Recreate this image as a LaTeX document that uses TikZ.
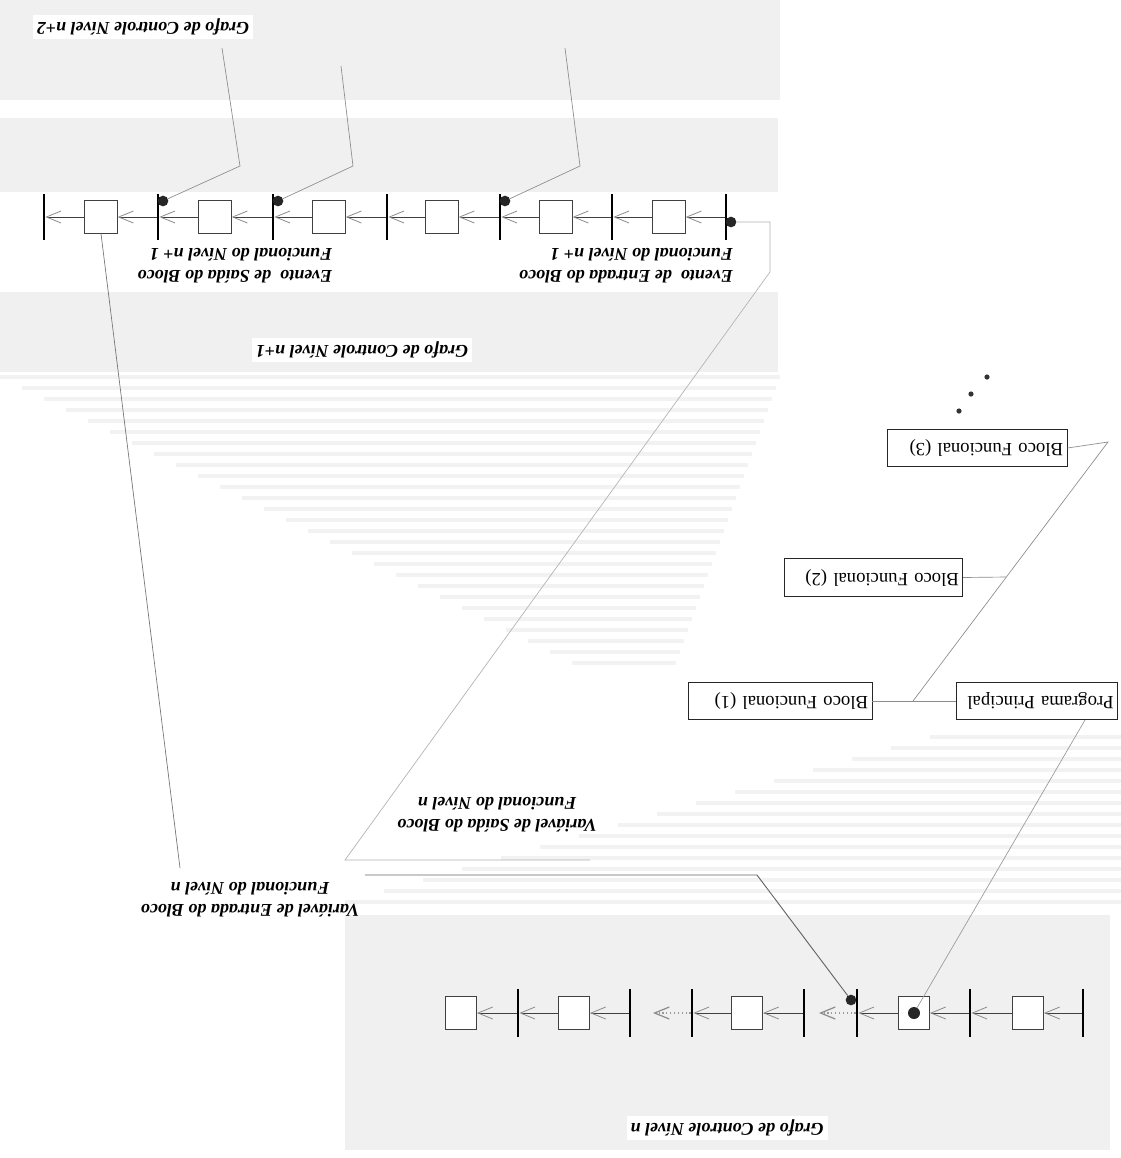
\documentclass[tikz,border=0pt]{standalone}
\usepackage{fontspec}
\setmainfont{Liberation Serif}
\usetikzlibrary{arrows.meta,calc}
\begin{document}
\begin{tikzpicture}[x=0.75pt,y=-0.75pt,
  stepbox/.style={draw=black!75,line width=0.5pt,fill=white,minimum width=24.5pt,minimum height=24.5pt,inner sep=0pt},
  bar/.style={fill=black,minimum width=1.6pt,minimum height=34.5pt,inner sep=0pt},
  tokendot/.style={circle,fill=black!85,minimum size=8pt,inner sep=0pt},
  flow/.style={draw=black!75,line width=0.6pt,-{Straight Barb[length=11pt,width=9pt,color=black!45]}},
  cont/.style={draw=black!40,line width=0.9pt,dotted,-{Straight Barb[length=11pt,width=9pt,color=black!45]}},
  lbl/.style={rotate=180,font=\fontsize{13.5}{16.5}\selectfont\bfseries\itshape,inner sep=3pt},
  block/.style={draw=black!85,line width=0.6pt,fill=white,font=\fontsize{14}{16}\selectfont,minimum height=28pt,inner xsep=3pt,align=right},
  link/.style={draw=black!45,line width=0.5pt},
  panel/.style={fill=black!6},
  bleed/.style={fill=black!5},
]
\useasboundingbox (0,0) rectangle (1121,1158);
\fill[white] (0,0) rectangle (1121,1158);

% shaded page areas
\fill[panel] (0,0) rectangle (780,100);
\fill[panel] (0,118) rectangle (778,192);
\fill[panel] (0,292) rectangle (778,372);
\fill[panel] (345,915) rectangle (1110,1150);
\foreach \i in {0,...,26}{
  \pgfmathsetmacro\yy{375+11*\i}
  \pgfmathsetmacro\xa{22*\i}
  \pgfmathsetmacro\xb{780-4*\i}
  \fill[bleed] (\xa,\yy) rectangle (\xb,\yy+4);
}
\foreach \i in {0,...,15}{
  \pgfmathsetmacro\yy{735+11*\i}
  \pgfmathsetmacro\xa{930-39*\i}
  \fill[bleed] (\xa,\yy) rectangle (1121,\yy+4);
}

% ---- control graph, level n+1 ----
\foreach \n/\x in {0/44,1/158,2/273,3/387,4/500,5/612,6/726}
  \node[bar] (p\n) at (\x,217) {};
\foreach \n/\x in {1/101,2/215,3/329,4/442,5/556,6/669}
  \node[stepbox] (s\n) at (\x,217) {};
\draw[flow] (p6) -- (s6.east);
\draw[flow] (s6.west) -- (p5);
\draw[flow] (p5) -- (s5.east);
\draw[flow] (s5.west) -- (p4);
\draw[flow] (p4) -- (s4.east);
\draw[flow] (s4.west) -- (p3);
\draw[flow] (p3) -- (s3.east);
\draw[flow] (s3.west) -- (p2);
\draw[flow] (p2) -- (s2.east);
\draw[flow] (s2.west) -- (p1);
\draw[flow] (p1) -- (s1.east);
\draw[flow] (s1.west) -- (p0);

% ---- control graph, level n ----
\foreach \n/\x in {1/518,2/630,3/692,4/804,5/857,6/970,7/1083}
  \node[bar,minimum height=36pt] (q\n) at (\x,1013) {};
\foreach \n/\x in {1/461,2/574,3/747,4/914,5/1028}
  \node[stepbox,minimum width=23.5pt,minimum height=25pt] (t\n) at (\x,1013) {};
\coordinate (c1) at (819,1013);
\coordinate (c2) at (653,1013);
\draw[flow] (q7) -- (t5.east);
\draw[flow] (t5.west) -- (q6);
\draw[flow] (q6) -- (t4.east);
\draw[flow] (t4.west) -- (q5);
\draw[cont] (q5) -- (c1);
\draw[flow] (q4) -- (t3.east);
\draw[flow] (t3.west) -- (q3);
\draw[cont] (q3) -- (c2);
\draw[flow] (q2) -- (t2.east);
\draw[flow] (t2.west) -- (q1);
\draw[flow] (q1) -- (t1.east);

% ---- program tree ----
\node[block,text width=132pt] (B1) at (780,701) {\rotatebox{180}{Bloco Funcional (1)}};
\node[block,text width=128pt] (B2) at (873.5,577.5) {\rotatebox{180}{Bloco Funcional (2)}};
\node[block,text width=129pt] (B3) at (977,448) {\rotatebox{180}{Bloco Funcional (3)}};
\node[block,text width=115pt] (PP) at (1037,701) {\rotatebox{180}{Programa Principal}};
\coordinate (J1) at (913,701);
\coordinate (J3) at (1108,442);
\coordinate (J2) at (1006,577);
\draw[link] (B1.east) -- (PP.west);
\draw[link] (J1) -- (J3) -- (B3.east);
\draw[link] (B2.east) -- (J2);
\fill[black!80] (987,377) circle (2.6) (971,394) circle (2.6) (959,411) circle (2.6);

% ---- labels ----
\node[lbl,fill=white] (g2) at (143,27) {Grafo de Controle Nível n+2};
\node[lbl,fill=white,align=left] (ein) at (626,266) {Evento\ \ de Entrada do Bloco\\Funcional do Nível n+ 1};
\node[lbl,fill=white,align=left] (eout) at (235,266) {Evento\ \ de Saída do Bloco\\Funcional do Nível n+ 1};
\node[lbl,fill=white] (g1) at (362,350) {Grafo de Controle Nível n+1};
\node[lbl,align=center] (vout) at (497,815) {Variável de Saída do Bloco\\Funcional do Nível n};
\node[lbl,align=center] (vin) at (250,900) {Variável de Entrada do Bloco\\Funcional do Nível n};
\node[lbl,fill=white] (g0) at (727,1128) {Grafo de Controle Nível n};

% ---- callouts ----
\node[tokendot] (d1) at (163,201) {};
\node[tokendot] (d2) at (278,201) {};
\node[tokendot] (d3) at (505,201) {};
\node[tokendot] (d4) at (731,222) {};
\node[tokendot] (e1) at (851,1000) {};
\node[tokendot,minimum width=8pt,minimum height=9pt] (tk) at (914,1013) {};

\coordinate (a1) at (222,48);  \coordinate (a1b) at (240,166);
\coordinate (a2) at (341,66);  \coordinate (a2b) at (353,166);
\coordinate (a3) at (565,48);  \coordinate (a3b) at (580,166);
\draw[link] (a1) -- (a1b) -- (d1);
\draw[link] (a2) -- (a2b) -- (d2);
\draw[link] (a3) -- (a3b) -- (d3);

\coordinate (v1) at (180,868);
\draw[link,draw=black!55] (s1.south) -- (v1);

\coordinate (h1) at (757,875);
\coordinate (h2) at (365,875);
\draw[link,draw=black!60,line width=0.7pt] (e1) -- (h1) -- (h2);

\coordinate (k1) at (770,222);
\coordinate (k2) at (770,272);
\coordinate (k3) at (345,860);
\coordinate (k4) at (590,860);
\draw[link,draw=black!30] (d4) -- (k1) -- (k2) -- (k3) -- (k4);

\coordinate (m1) at (1085,720);
\draw[link,draw=black!40] (tk) -- (m1);
\end{tikzpicture}
\end{document}
